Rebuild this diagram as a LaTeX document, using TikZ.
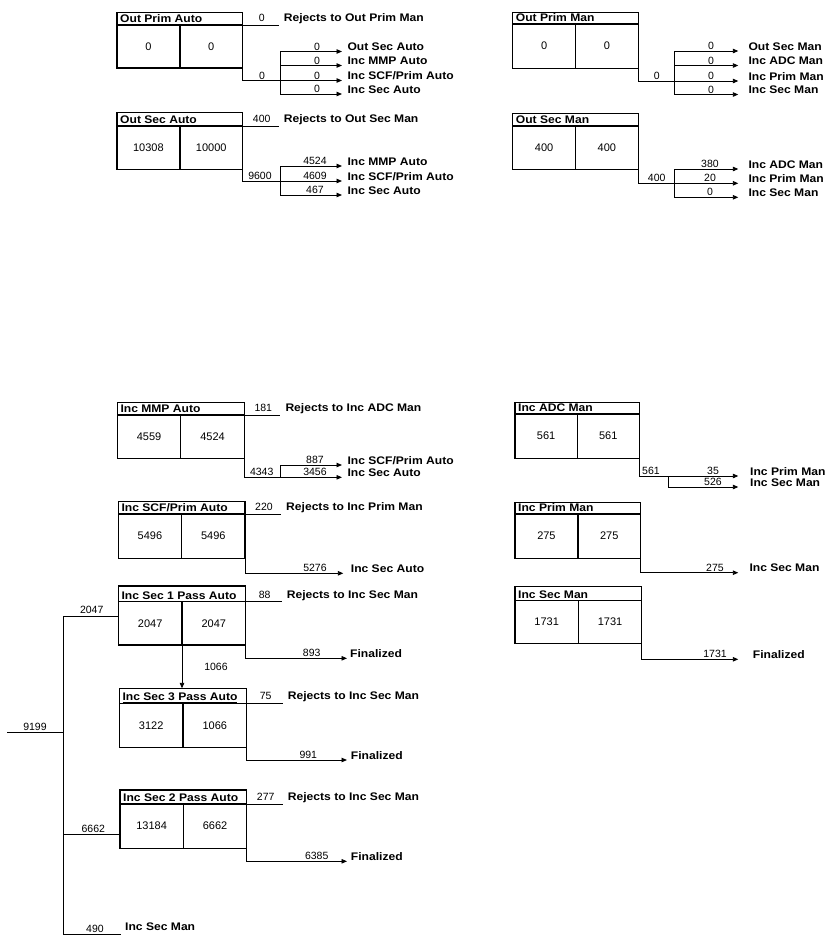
\documentclass[tikz,border=0pt]{standalone}
\usepackage{fontspec}
\setmainfont{Liberation Sans}
\newfontfamily\lblfont[FakeStretch=1.1]{Liberation Sans}
\usetikzlibrary{arrows.meta,calc}

\tikzset{
  conn/.style={line width=0.9pt},
  arr/.style={conn,-{Triangle[length=5.5pt,width=4.5pt]}},
  boxline/.style={line width=1.3pt},
  boxnode/.style={draw,boxline,anchor=north west,inner sep=0pt,outer sep=0pt},
  num/.style={font=\fontsize{10.5}{12}\selectfont,inner sep=0pt,anchor=base},
  val/.style={font=\fontsize{11}{13}\selectfont,inner sep=0pt,anchor=center},
  txt/.style={font=\lblfont\bfseries\fontsize{11}{13}\selectfont,inner sep=0pt,anchor=base west},
  ttl/.style={font=\lblfont\bfseries\fontsize{11}{13}\selectfont,inner sep=0pt,anchor=base west},
}

% name, left, top, width, height, header height, title, value 1, value 2
\newcommand\pbox[9]{%
  \node[boxnode,minimum width=#4pt,minimum height=#5pt] (#1) at (#2,#3) {};
  \coordinate (#1-hw) at ($(#1.north west)+(0,#6)$);
  \coordinate (#1-he) at ($(#1.north east)+(0,#6)$);
  \coordinate (#1-ht) at ($(#1.north)+(0,#6)$);
  \draw[boxline] (#1-hw) -- (#1-he);
  \draw[boxline] (#1-ht) -- (#1.south);
  \node[ttl] (#1-t) at ($(#1.north west)+(3,#6-2.5)$) {\underline{#7}};
  \node[val] (#1-a) at ($(#1-hw)!0.5!(#1.south)$) {#8};
  \node[val] (#1-b) at ($(#1-ht)!0.5!(#1.south east)$) {#9};
}
% name, number, text
\newcommand\reject[3]{%
  \coordinate (#1-re) at ($(#1-he)+(36,0)$);
  \draw[conn] (#1-he) -- (#1-re);
  \node[num] (#1-rn) at ($(#1-he)+(19,-3.5)$) {#2};
  \node[txt] (#1-rt) at ($(#1-he)+(41,-3.5)$) {#3};
}
% name, join y, bus x, label x, number, bus top y, bus bottom y
\newcommand\busout[7]{%
  \coordinate (#1-j) at (#3,#2);
  \coordinate (#1-bt) at (#3,#6);
  \coordinate (#1-bb) at (#3,#7);
  \draw[conn] (#1.south east) |- (#1-j);
  \draw[conn] (#1-bt) -- (#1-bb);
  \node[num] (#1-on) at (#4,#2-1.5) {#5};
}
% id, bus x, y, tip x, label x, number, text x, text
\newcommand\branch[8]{%
  \coordinate (#1-s) at (#2,#3);
  \coordinate (#1-e) at (#4,#3);
  \draw[arr] (#1-s) -- (#1-e);
  \node[num] (#1-n) at (#5,#3-1.5) {#6};
  \node[txt] (#1-t) at (#7,#3-1) {#8};
}
% name, y, tip x, label x, number, text x, text
\newcommand\singleout[7]{%
  \coordinate (#1-oe) at (#3,#2);
  \draw[arr] (#1.south east) |- (#1-oe);
  \node[num] (#1-on) at (#4,#2-1.5) {#5};
  \node[txt] (#1-ot) at (#6,#2-1) {#7};
}

\begin{document}
\begin{tikzpicture}[x=1pt,y=-1pt]
\fill[white] (0,0) rectangle (837,940);
\useasboundingbox (0,0) rectangle (837,940);

% ---------- boxes ----------
\pbox{opa}{117}{12.7}{125.7}{55.3}{12.3}{Out Prim Auto}{0}{0}
\pbox{osa}{117}{112.7}{125.7}{56.6}{13.3}{Out Sec Auto}{10308}{10000}
\pbox{opm}{512.7}{12.7}{125.6}{55.6}{11.3}{Out Prim Man}{0}{0}
\pbox{osm}{512.7}{113.3}{125.6}{56}{12.7}{Out Sec Man}{400}{400}
\pbox{ima}{117.3}{402.7}{127}{55.6}{12.3}{Inc MMP Auto}{4559}{4524}
\pbox{iam}{515}{402.7}{124.3}{55.6}{11.3}{Inc ADC Man}{561}{561}
\pbox{isp}{118.3}{501.7}{126.7}{56.6}{12.3}{Inc SCF/Prim Auto}{5496}{5496}
\pbox{ipm}{515}{502.7}{125.7}{55.6}{11.3}{Inc Prim Man}{275}{275}
\pbox{is1}{118.3}{586}{127.4}{59}{15.7}{Inc Sec 1 Pass Auto}{2047}{2047}
\pbox{ism}{515}{586.7}{126.7}{56.6}{14}{Inc Sec Man}{1731}{1731}
\pbox{is3}{119.3}{688.3}{127.4}{59}{15}{Inc Sec 3 Pass Auto}{3122}{1066}
\pbox{is2}{120}{790}{126.7}{58.3}{14}{Inc Sec 2 Pass Auto}{13184}{6662}

% ---------- rejects ----------
\reject{opa}{0}{Rejects to Out Prim Man}
\reject{osa}{400}{Rejects to Out Sec Man}
\reject{ima}{181}{Rejects to Inc ADC Man}
\reject{isp}{220}{Rejects to Inc Prim Man}
\reject{is1}{88}{Rejects to Inc Sec Man}
\reject{is3}{75}{Rejects to Inc Sec Man}
\reject{is2}{277}{Rejects to Inc Sec Man}

% ---------- Out Prim Auto ----------
\busout{opa}{80.5}{280}{262}{0}{51.5}{94}
\branch{opa1}{280}{51.5}{342}{317}{0}{347.3}{Out Sec Auto}
\branch{opa2}{280}{65.5}{342}{317}{0}{347.3}{Inc MMP Auto}
\branch{opa3}{280}{80.5}{342}{317}{0}{347.3}{Inc SCF/Prim Auto}
\branch{opa4}{280}{94}{342}{317}{0}{347.3}{Inc Sec Auto}

% ---------- Out Sec Auto ----------
\busout{osa}{181}{280}{260}{9600}{166}{195}
\branch{osa1}{280}{166}{342}{315}{4524}{347.3}{Inc MMP Auto}
\branch{osa2}{280}{181}{342}{315}{4609}{347.3}{Inc SCF/Prim Auto}
\branch{osa3}{280}{195}{342}{315}{467}{347.3}{Inc Sec Auto}

% ---------- Out Prim Man ----------
\busout{opm}{81}{674}{656.7}{0}{51}{94.5}
\branch{opm1}{674}{51}{738.3}{711}{0}{748.3}{Out Sec Man}
\branch{opm2}{674}{65.5}{738.3}{711}{0}{748.3}{Inc ADC Man}
\branch{opm3}{674}{81}{738.3}{711}{0}{748.3}{Inc Prim Man}
\branch{opm4}{674}{94.5}{738.3}{711}{0}{748.3}{Inc Sec Man}

% ---------- Out Sec Man ----------
\busout{osm}{183.3}{674}{656.7}{400}{169}{197.3}
\branch{osm1}{674}{169}{738.3}{710}{380}{748.3}{Inc ADC Man}
\branch{osm2}{674}{183.3}{738.3}{710}{20}{748.3}{Inc Prim Man}
\branch{osm3}{674}{197.3}{738.3}{710}{0}{748.3}{Inc Sec Man}

% ---------- Inc MMP Auto ----------
\busout{ima}{477.3}{280}{261.7}{4343}{465}{477.3}
\branch{ima1}{280}{465}{342}{315}{887}{347.3}{Inc SCF/Prim Auto}
\branch{ima2}{280}{477.3}{342}{315}{3456}{347.3}{Inc Sec Auto}

% ---------- Inc ADC Man ----------
\busout{iam}{476}{668.3}{651}{561}{476}{487}
\branch{iam1}{668.3}{476}{738.3}{713}{35}{750}{Inc Prim Man}
\branch{iam2}{668.3}{487}{738.3}{713}{526}{750}{Inc Sec Man}

% ---------- single outputs ----------
\singleout{isp}{573.3}{343.3}{315}{5276}{350.7}{Inc Sec Auto}
\singleout{ipm}{572.7}{738.3}{715}{275}{749.3}{Inc Sec Man}
\singleout{ism}{659.3}{738.3}{715}{1731}{752.7}{Finalized}
\singleout{is1}{658.3}{347}{311.7}{893}{350}{Finalized}
\singleout{is3}{760}{347}{308.3}{991}{350.7}{Finalized}
\singleout{is2}{861.3}{347}{316.7}{6385}{350.7}{Finalized}

% ---------- Sec 1 -> Sec 3 ----------
\draw[arr] (is1.south) -- (is1.south |- is3.north);
\node[num] (l1066) at (216,670.5) {1066};

% ---------- input tree ----------
\coordinate (ttop) at (63.3,616.7);
\coordinate (tin) at (7.3,732.3);
\coordinate (tmid) at (63.3,732.3);
\coordinate (t6) at (63.3,834);
\coordinate (tbot) at (63.3,934);
\coordinate (t490) at (120.7,934);
\draw[conn] (ttop) -- (tbot);
\draw[conn] (ttop) -- (ttop -| is1.west);
\draw[conn] (tin) -- (tmid);
\draw[conn] (t6) -- (t6 -| is2.west);
\draw[conn] (tbot) -- (t490);
\node[num] (l2047) at (91.7,613.8) {2047};
\node[num] (l9199) at (35,730.5) {9199};
\node[num] (l6662) at (93.3,832.1) {6662};
\node[num] (l490) at (95,932.1) {490};
\node[txt] (t490t) at (125,930.4) {Inc Sec Man};
\end{tikzpicture}
\end{document}
